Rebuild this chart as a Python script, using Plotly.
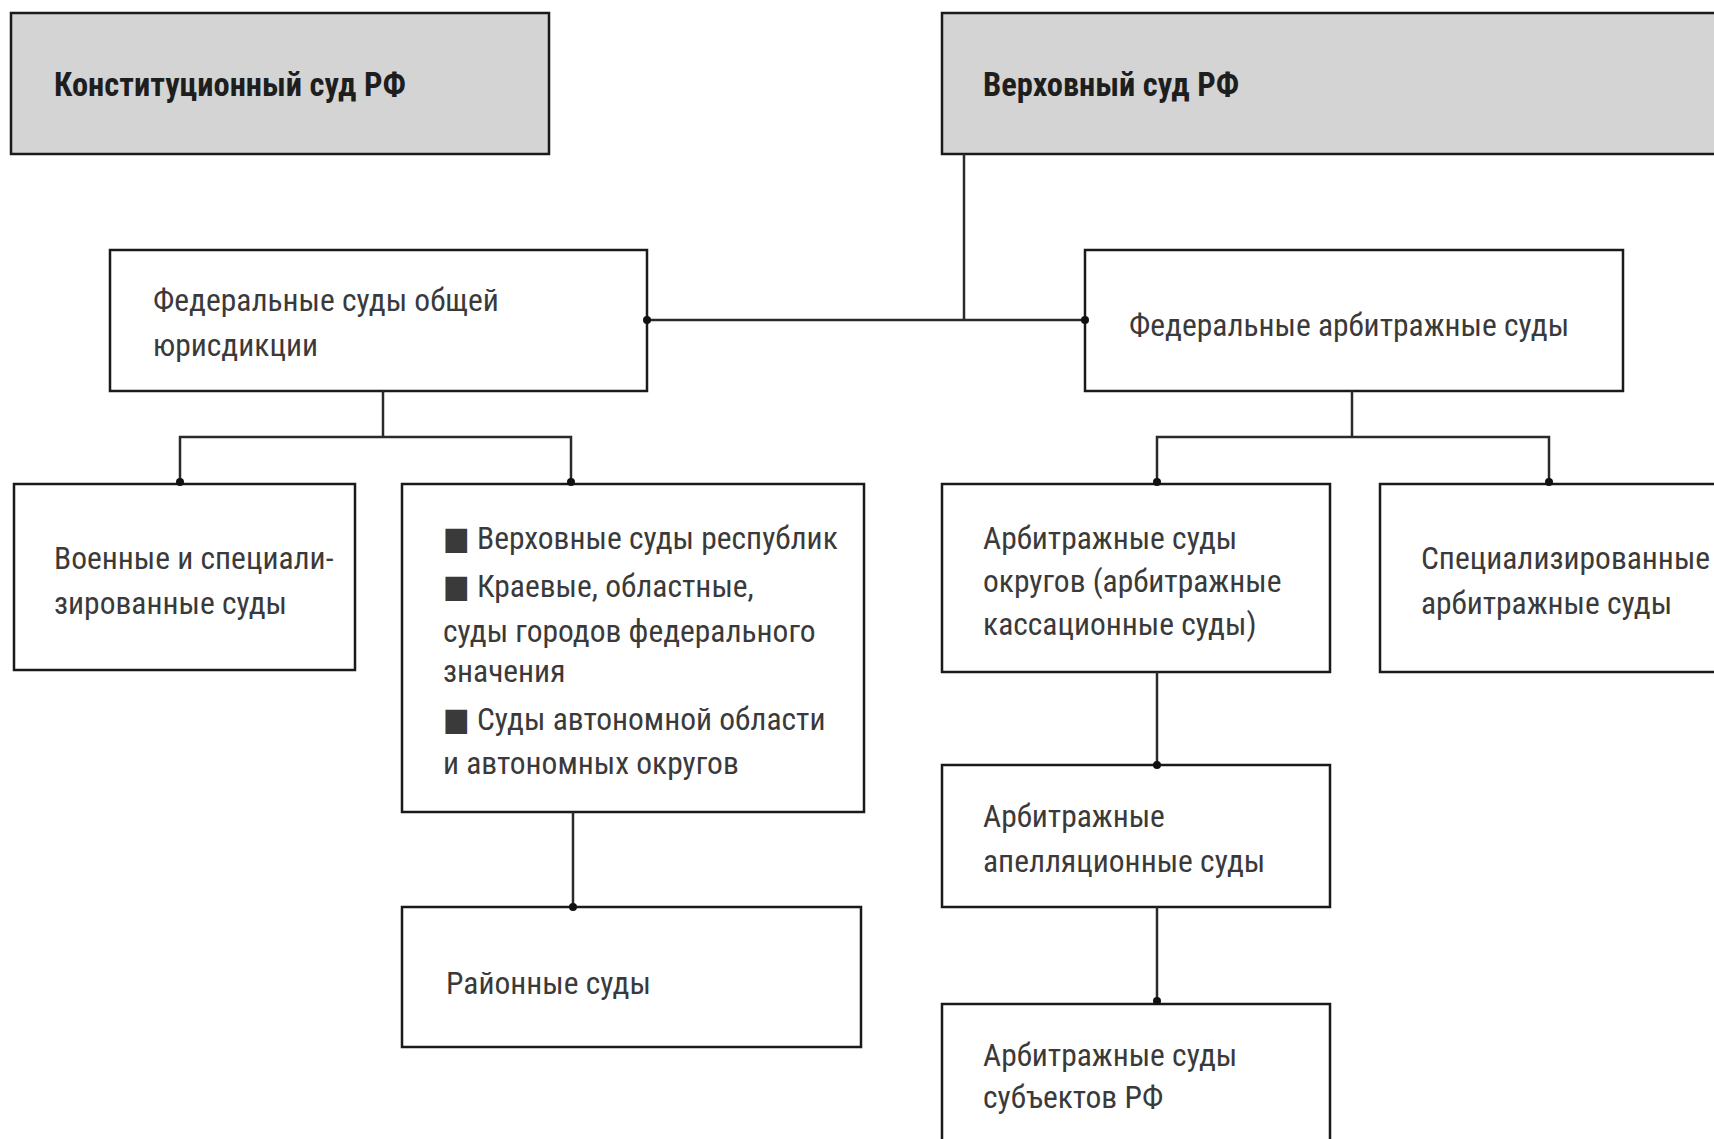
import plotly.graph_objects as go

# ---- diagram content ----
node_names = ["const", "verkh", "fed_gen", "fed_arb", "voen", "reg", "raion",
              "arb_okr", "arb_spec", "arb_apel", "arb_subj"]
node_lines = [
    ["Конституционный суд РФ"],
    ["Верховный суд РФ"],
    ["Федеральные суды общей", "юрисдикции"],
    ["Федеральные арбитражные суды"],
    ["Военные и специали-", "зированные суды"],
    ["■ Верховные суды республик", "■ Краевые, областные,", "суды городов федерального",
     "значения", "■ Суды автономной области", "и автономных округов"],
    ["Районные суды"],
    ["Арбитражные суды", "округов (арбитражные", "кассационные суды)"],
    ["Специализированные", "арбитражные суды"],
    ["Арбитражные", "апелляционные суды"],
    ["Арбитражные суды", "субъектов РФ"],
]
node_header = [True, True, False, False, False, False, False, False, False, False, False]

# ---- layout (pixel coordinates of the page) ----
box_x0 = [11, 942, 110, 1085, 14, 402, 402, 942, 1380, 942, 942]
box_x1 = [549, 1730, 647, 1623, 355, 864, 861, 1330, 1730, 1330, 1330]
box_y0 = [13, 13, 250, 250, 484, 484, 907, 484, 484, 765, 1004]
box_y1 = [154, 154, 391, 391, 670, 812, 1047, 672, 672, 907, 1160]
text_x = [52, 981, 151, 1127, 52, 441, 444, 981, 1419, 981, 981]
text_y = [
    [85], [85], [300, 345], [325], [558, 603],
    [538, 586, 631, 671, 719, 763], [983], [538, 581, 624], [558, 603],
    [816, 861], [1055, 1097],
]

# connectors as polylines
conn_x = [
    [964, 964],
    [647, 1085],
    [383, 383],
    [180, 180, 571, 571],
    [573, 573],
    [1352, 1352],
    [1157, 1157, 1549, 1549],
    [1157, 1157],
    [1157, 1157],
]
conn_y = [
    [154, 320],
    [320, 320],
    [391, 437],
    [482, 437, 437, 482],
    [812, 907],
    [391, 437],
    [482, 437, 437, 482],
    [672, 765],
    [907, 1001],
]
dot_x = [647, 1085, 180, 571, 573, 1157, 1549, 1157, 1157]
dot_y = [320, 320, 482, 482, 907, 482, 482, 765, 1001]

W, H = 1714, 1139
FONT = "Roboto Condensed, DejaVu Sans Condensed, sans-serif"

fig = go.Figure()

for cx, cy in zip(conn_x, conn_y):
    fig.add_trace(go.Scatter(x=cx, y=cy, mode="lines",
                             line=dict(color="#2a2a2a", width=2.5),
                             hoverinfo="skip", showlegend=False))

fig.add_trace(go.Scatter(x=dot_x, y=dot_y, mode="markers",
                         marker=dict(color="#111", size=8),
                         hoverinfo="skip", showlegend=False))

for i in range(len(node_names)):
    fig.add_shape(type="rect", x0=box_x0[i], x1=box_x1[i], y0=box_y0[i], y1=box_y1[i],
                  xref="x", yref="y",
                  line=dict(color="#1a1a1a", width=2.5),
                  fillcolor="#d4d4d4" if node_header[i] else "white",
                  layer="below")
    for line, ty in zip(node_lines[i], text_y[i]):
        txt = f"<b>{line}</b>" if node_header[i] else line
        fig.add_annotation(x=text_x[i], y=ty, xref="x", yref="y", text=txt,
                           showarrow=False, xanchor="left", yanchor="middle",
                           font=dict(family=FONT, size=32.5 if node_header[i] else 31.5,
                                     color="#1e1e1e" if node_header[i] else "#3a3a3a"))

fig.update_layout(
    width=W, height=H,
    margin=dict(l=0, r=0, t=0, b=0),
    paper_bgcolor="white", plot_bgcolor="white",
    xaxis=dict(range=[0, W], visible=False, fixedrange=True),
    yaxis=dict(range=[H, 0], visible=False, fixedrange=True),
)

fig.write_html("out.html",
               config={"displayModeBar": False, "staticPlot": True},
               post_script="document.body.style.margin='0';document.body.style.overflow='hidden';")
